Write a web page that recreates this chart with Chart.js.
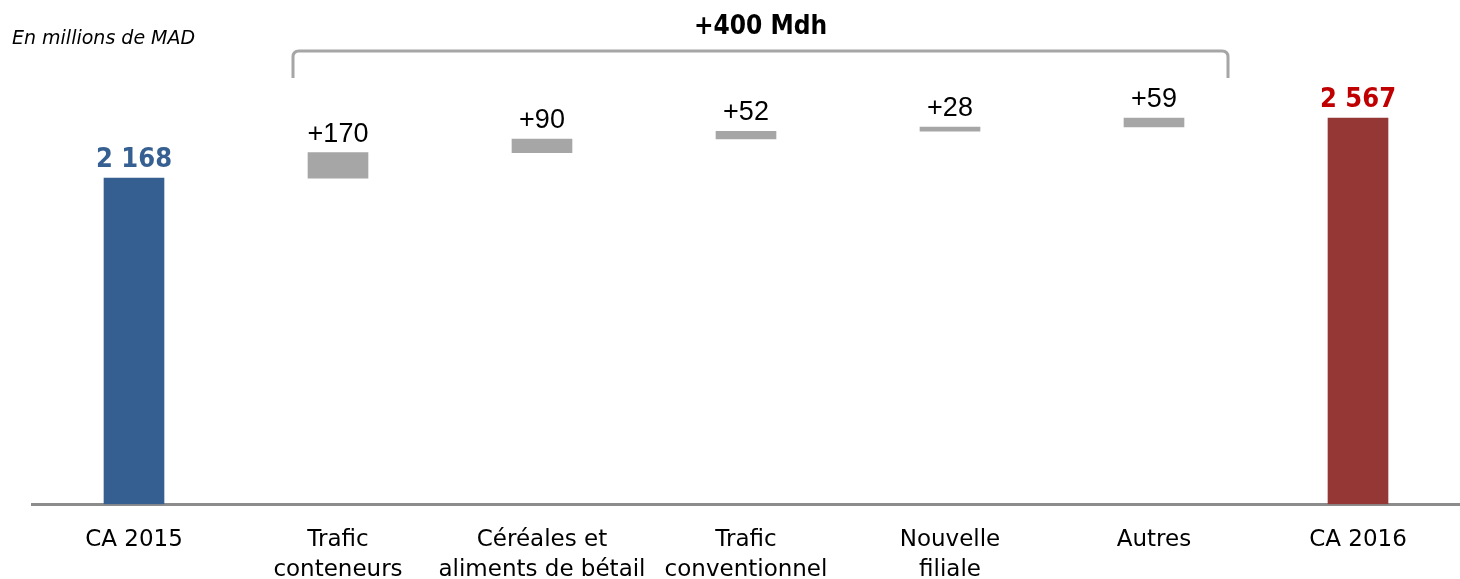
<!DOCTYPE html>
<html>
<head>
<meta charset="utf-8">
<script src="https://cdn.jsdelivr.net/npm/chart.js@4"></script>
<style>
  html, body { margin: 0; padding: 0; background: #ffffff; overflow: hidden; }
  #wrap { width: 1460px; height: 579px; position: relative; overflow: hidden; }
  #inner { width: 1460px; height: 606px; position: absolute; left: 0; top: 0; }
</style>
</head>
<body>
<div id="wrap"><div id="inner"><canvas id="waterfall"></canvas></div></div>
<script>
// categories + values
const categories = [
  'CA 2015',
  ['Trafic', 'conteneurs'],
  ['Céréales et', 'aliments de bétail'],
  ['Trafic', 'conventionnel'],
  ['Nouvelle', 'filiale'],
  'Autres',
  'CA 2016'
];
const startTotal = 2168;
const endTotal = 2567;
const increments = [170, 90, 52, 28, 59];
const valueLabels = ['2 168', '+170', '+90', '+52', '+28', '+59', '2 567'];
const bracketLabel = '+400 Mdh';
const unitLabel = 'En millions de MAD';

const color = {
  Blue: '#365f91',
  Red: '#953735',
  Grey: '#a6a6a6',
  BlueText: '#366092',
  RedText: '#c00000'
};

// build floating bars for the waterfall
const floatingData = [];
function packageData() {
  floatingData.push([0, startTotal]);
  let running = startTotal;
  for (let i = 0; i < increments.length; i++) {
    floatingData.push([running, running + increments[i]]);
    running += increments[i];
  }
  floatingData.push([0, endTotal]);
}
packageData();

const barColors = [color.Blue, color.Grey, color.Grey, color.Grey, color.Grey, color.Grey, color.Red];

// labels above bars + bracket + captions
const annotationsPlugin = {
  id: 'annotations',
  afterDatasetsDraw(chart) {
    const ctx = chart.ctx;
    const meta = chart.getDatasetMeta(0);
    ctx.save();
    ctx.textAlign = 'center';
    ctx.textBaseline = 'alphabetic';
    meta.data.forEach((bar, i) => {
      const last = meta.data.length - 1;
      if (i === 0 || i === last) {
        ctx.font = 'bold 27px "DejaVu Sans Condensed", "DejaVu Sans", sans-serif';
        ctx.fillStyle = i === 0 ? color.BlueText : color.RedText;
      } else {
        ctx.font = '27px "Liberation Sans", Arial, sans-serif';
        ctx.fillStyle = '#000000';
      }
      ctx.fillText(valueLabels[i], bar.x, bar.y - 11);
    });

    // bracket over the increments
    const x = chart.scales.x;
    const left = x.getPixelForValue(1) - 45;
    const right = x.getPixelForValue(5) + 74;
    const top = 51, bottom = 78, r = 6;
    ctx.strokeStyle = color.Grey;
    ctx.lineWidth = 3;
    ctx.beginPath();
    ctx.moveTo(left, bottom);
    ctx.lineTo(left, top + r);
    ctx.quadraticCurveTo(left, top, left + r, top);
    ctx.lineTo(right - r, top);
    ctx.quadraticCurveTo(right, top, right, top + r);
    ctx.lineTo(right, bottom);
    ctx.stroke();

    ctx.fillStyle = '#000000';
    ctx.font = 'bold 26px "DejaVu Sans Condensed", "DejaVu Sans", sans-serif';
    ctx.fillText(bracketLabel, (left + right) / 2, 34);

    ctx.textAlign = 'left';
    ctx.font = 'italic 19px "DejaVu Sans", sans-serif';
    ctx.fillText(unitLabel, 12, 44);
    ctx.restore();
  }
};

const waterfallConfig = {
  type: 'bar',
  data: {
    labels: categories,
    datasets: [{
      data: floatingData,
      backgroundColor: barColors,
      borderWidth: 0,
      barThickness: 60
    }]
  },
  options: {
    responsive: true,
    maintainAspectRatio: false,
    animation: false,
    layout: { padding: { top: 53, left: 32, right: 0, bottom: 0 } },
    plugins: {
      legend: { display: false },
      tooltip: { enabled: false }
    },
    scales: {
      y: {
        display: false,
        min: 0,
        max: 3000
      },
      x: {
        grid: { display: false, drawTicks: false },
        border: { display: true, color: '#8c8c8c', width: 3 },
        ticks: {
          color: '#000000',
          padding: 21,
          maxRotation: 0,
          autoSkip: false,
          font: { family: '"DejaVu Sans", sans-serif', size: 23, lineHeight: 1.3 }
        }
      }
    }
  },
  plugins: [annotationsPlugin]
};

const waterfallChart = new Chart(document.getElementById('waterfall'), waterfallConfig);
</script>
</body>
</html>
